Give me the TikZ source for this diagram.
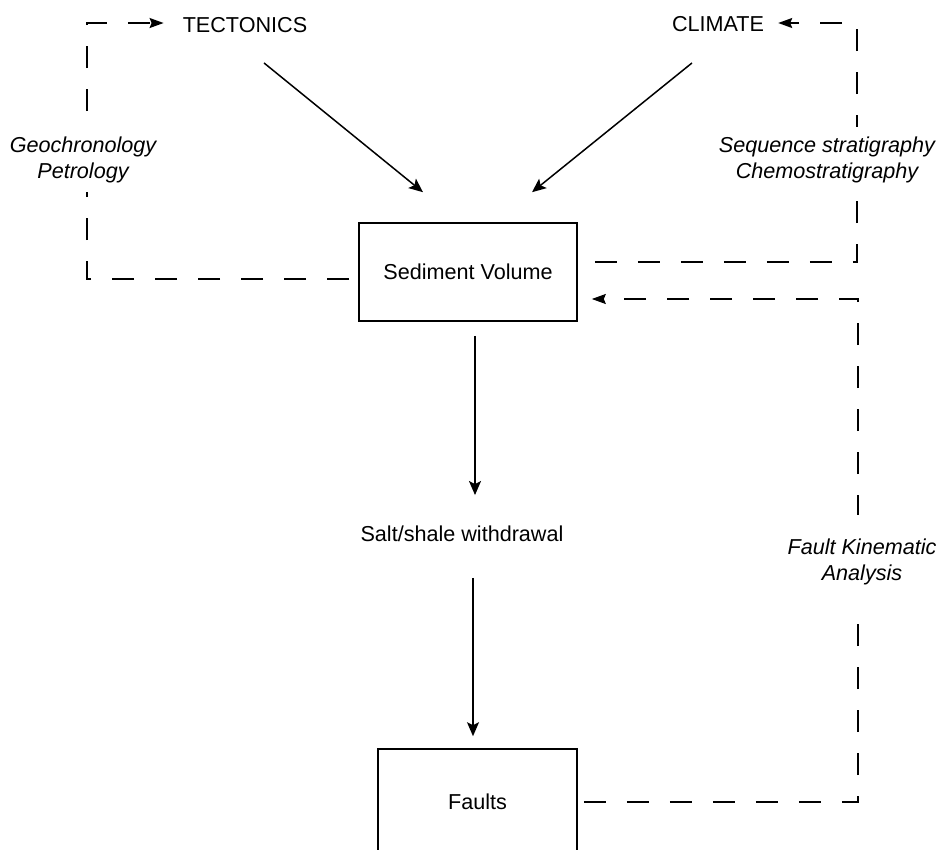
\documentclass[tikz,border=0pt]{standalone}
\usepackage{fontspec}
\setmainfont{Liberation Sans}
\usetikzlibrary{arrows.meta}
\tikzset{>={Stealth[length=14pt,width=12pt,inset=3pt]},
  txt/.style={font=\fontsize{21.6}{26}\selectfont,text height=15.5pt,text depth=0pt,inner sep=0pt},
  lbl/.style={font=\fontsize{21.6}{26}\selectfont\itshape,align=center,fill=white,inner xsep=2pt},
  proc/.style={draw,line width=1.6pt,minimum width=218pt,minimum height=98pt},
  flow/.style={->,line width=1.5pt},
  fb/.style={-{Stealth[length=14pt,width=10pt,inset=2pt]},line width=1.5pt,dash pattern=on 22pt off 21pt}}

\begin{document}
\begin{tikzpicture}[x=1pt,y=-1pt]
    \clip (0,0) rectangle (940,849);
    \node[txt] (tec) at (245,25) {TECTONICS};
    \node[txt] (clim) at (718,24) {CLIMATE};
    \node[txt,proc] (sv) at (468,272) {Sediment Volume};
    \node[txt] (salt) at (462,534) {Salt/shale withdrawal};
    \node[txt,proc,minimum width=199pt,minimum height=106pt] (flt) at (477.5,802) {Faults};
    \coordinate (tl) at (87,23);
    \coordinate (tr) at (857,23);
    \coordinate (mr) at (858,299);

    \draw[flow] ([xshift=19pt,yshift=-30pt]tec.south) -- ([xshift=-45pt,yshift=30pt]sv.north);
    \draw[flow] ([xshift=-26pt,yshift=-31pt]clim.south) -- ([xshift=64pt,yshift=30pt]sv.north);
    \draw[flow] ([xshift=7pt,yshift=-14pt]sv.south) -- ([xshift=13pt,yshift=31pt]salt.north);
    \draw[flow] ([xshift=11pt,yshift=-36pt]salt.south) -- ([xshift=-4.5pt,yshift=12pt]flt.north);

    \draw[fb] ([xshift=-9pt,yshift=-7pt]sv.west) -| (tl) -- ([xshift=-19pt,yshift=2pt]tec.west);
    \draw[fb] ([xshift=17pt,yshift=10pt]sv.east) -| (tr) -- ([xshift=14pt,yshift=1pt]clim.east);
    \draw[fb] ([xshift=6pt]flt.east) -| (mr) -- ([xshift=14pt,yshift=-27pt]sv.east);

    \node[lbl,inner ysep=9pt] (geo) at (83,160) {Geochronology\\Petrology};
    \node[lbl,inner ysep=10pt] (seq) at (827,160) {Sequence stratigraphy\\Chemostratigraphy};
    \node[lbl,inner ysep=24pt] (fka) at (862,562) {Fault Kinematic\\Analysis};
\end{tikzpicture}
\end{document}
